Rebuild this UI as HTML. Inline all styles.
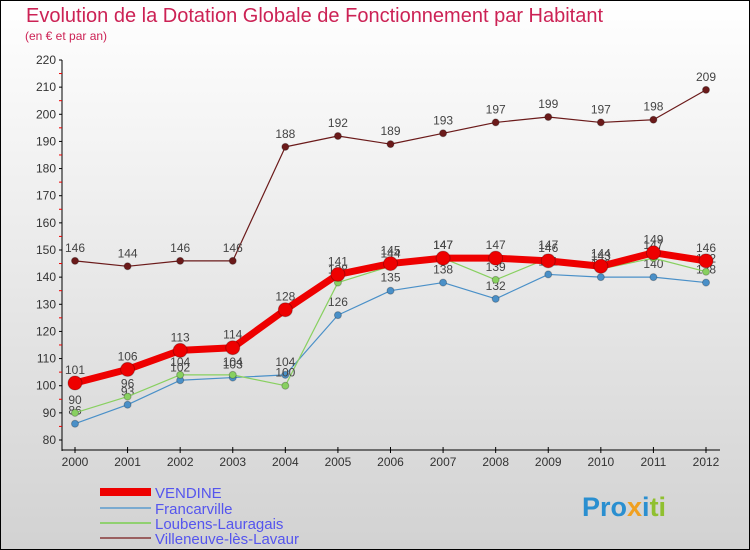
<!DOCTYPE html>
<html><head><meta charset="utf-8"><style>
body{margin:0}
#c{width:750px;height:550px;position:relative;overflow:hidden;font-family:"Liberation Sans",sans-serif}
</style></head><body>
<div id="c">
<svg id="s" width="750" height="550" xmlns="http://www.w3.org/2000/svg">
<defs><linearGradient id="bg" x1="0" y1="0" x2="0" y2="1"><stop offset="0" stop-color="#ffffff"/><stop offset="1" stop-color="#d2d2d2"/></linearGradient></defs>
<rect x="0.5" y="0.5" width="749" height="549" fill="url(#bg)" stroke="#000"/>
<text x="26" y="22" font-size="20" fill="#cc2255">Evolution de la Dotation Globale de Fonctionnement par Habitant</text>
<text x="25" y="40" font-size="12" fill="#cc2255">(en € et par an)</text>
<g id="axes"></g><g id="series"></g><g id="legend"></g>
<text x="582" y="516" font-size="27" font-weight="bold" fill="#2a8fd0">Pro<tspan fill="#f0a020">x</tspan><tspan fill="#2a8fd0">i</tspan><tspan fill="#90c030">ti</tspan></text>
</svg>
</div>
<script>
const years=[2000,2001,2002,2003,2004,2005,2006,2007,2008,2009,2010,2011,2012];
const yTicks=[80,90,100,110,120,130,140,150,160,170,180,190,200,210,220];
const vendine=[101,106,113,114,128,141,145,147,147,146,144,149,146];
const francarville=[86,93,102,103,104,126,135,138,132,141,140,140,138];
const loubens=[90,96,104,104,100,138,144,147,139,147,143,147,142];
const villeneuve=[146,144,146,146,188,192,189,193,197,199,197,198,209];
const NS='http://www.w3.org/2000/svg';
const xs=i=>75+i*(706-75)/12;
const ys=v=>440-(v-80)*(380/140);
function mk(tag,at,parent){const e=document.createElementNS(NS,tag);for(const k in at)e.setAttribute(k,at[k]);parent.appendChild(e);return e;}
const ax=document.getElementById('axes');
let a=mk('line',{x1:62,y1:60,x2:62,y2:451,stroke:'#000'},ax);

a=mk('line',{x1:62,y1:450,x2:720,y2:450,stroke:'#000'},ax);

yTicks.forEach(v=>{const y=ys(v);
 mk('line',{x1:59,y1:y,x2:62,y2:y,stroke:'#000'},ax);
 if(v<220)mk('line',{x1:59,y1:y-13.6,x2:62,y2:y-13.6,stroke:'#e00'},ax);
 const t=mk('text',{x:56,y:y+4,'font-size':12,'text-anchor':'end',fill:'#333'},ax);t.textContent=v;
 });
years.forEach((yr,i)=>{const x=xs(i);
 mk('line',{x1:x,y1:447,x2:x,y2:453,stroke:'#000'},ax);
 const t=mk('text',{x:x,y:466,'font-size':12,'text-anchor':'middle',fill:'#333'},ax);t.textContent=yr;
 });
const sg=document.getElementById('series');
const defs=[
 {n:'villeneuve',d:villeneuve,c:'#6b1a1a',w:1.2,r:3.5},
 {n:'francarville',d:francarville,c:'#4a90c8',w:1.2,r:3.5},
 {n:'loubens',d:loubens,c:'#88d060',w:1.2,r:3.5},
 {n:'vendine',d:vendine,c:'#ee0000',w:7,r:7}];
defs.forEach(s=>{const g=mk('g',{},sg);
 
 const p=mk('polyline',{points:s.d.map((v,i)=>xs(i)+','+ys(v)).join(' '),fill:'none',stroke:s.c,'stroke-width':s.w,'stroke-linejoin':'round'},g);
 
 s.d.forEach((v,i)=>{const c=mk('circle',{cx:xs(i),cy:ys(v),r:s.r,fill:s.c,stroke:'rgba(0,0,0,0.25)'},g);
  
  const t=mk('text',{x:xs(i),y:ys(v)-9,'font-size':12,'text-anchor':'middle',fill:'#444'},g);t.textContent=v;
  });});
const lg=document.getElementById('legend');
[['VENDINE','#ee0000',8,492],['Francarville','#7aaad0',2,508],['Loubens-Lauragais','#90d070',2,523],['Villeneuve-lès-Lavaur','#9a6060',2,538]].forEach(([n,c,w,y])=>{
 const g=mk('g',{},lg);
 mk('line',{x1:100,y1:y,x2:151,y2:y,stroke:c,'stroke-width':w},g);
 const t=mk('text',{x:155,y:y+6,'font-size':15,fill:'#5555ee'},g);t.textContent=n;});
</script>
</body></html>
